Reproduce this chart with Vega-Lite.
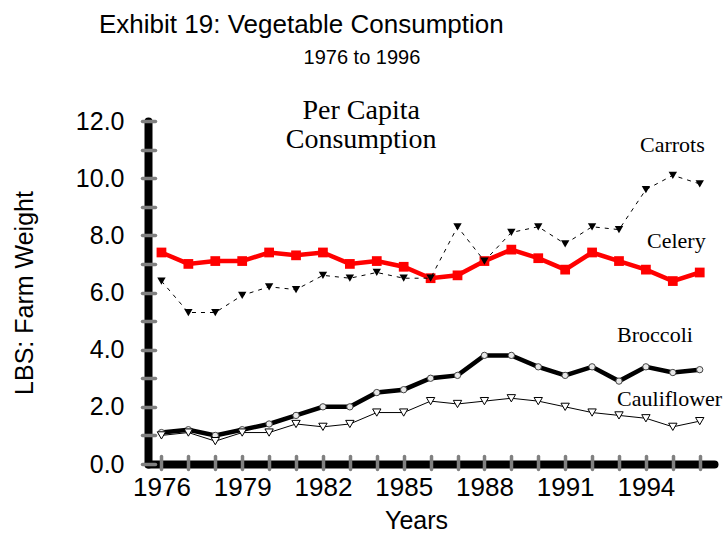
{
  "$schema": "https://vega.github.io/schema/vega-lite/v6.json",
  "width": 566,
  "height": 343,
  "autosize": {"type": "none"},
  "padding": {"left": 148, "top": 121, "right": 11, "bottom": 69},
  "background": "white",
  "config": {
    "view": {"stroke": null},
    "font": "Liberation Sans"
  },
  "title": {
    "text": "Exhibit 19: Vegetable Consumption",
    "anchor": "start",
    "frame": "group",
    "dx": -49,
    "offset": 10,
    "font": "Liberation Sans",
    "fontSize": 26,
    "fontWeight": "normal",
    "color": "black"
  },
  "datasets": {
    "consumption": [
      {"year": 1976, "series": "Celery", "value": 7.4},
      {"year": 1977, "series": "Celery", "value": 7.0},
      {"year": 1978, "series": "Celery", "value": 7.1},
      {"year": 1979, "series": "Celery", "value": 7.1},
      {"year": 1980, "series": "Celery", "value": 7.4},
      {"year": 1981, "series": "Celery", "value": 7.3},
      {"year": 1982, "series": "Celery", "value": 7.4},
      {"year": 1983, "series": "Celery", "value": 7.0},
      {"year": 1984, "series": "Celery", "value": 7.1},
      {"year": 1985, "series": "Celery", "value": 6.9},
      {"year": 1986, "series": "Celery", "value": 6.5},
      {"year": 1987, "series": "Celery", "value": 6.6},
      {"year": 1988, "series": "Celery", "value": 7.1},
      {"year": 1989, "series": "Celery", "value": 7.5},
      {"year": 1990, "series": "Celery", "value": 7.2},
      {"year": 1991, "series": "Celery", "value": 6.8},
      {"year": 1992, "series": "Celery", "value": 7.4},
      {"year": 1993, "series": "Celery", "value": 7.1},
      {"year": 1994, "series": "Celery", "value": 6.8},
      {"year": 1995, "series": "Celery", "value": 6.4},
      {"year": 1996, "series": "Celery", "value": 6.7},
      {"year": 1976, "series": "Carrots", "value": 6.4},
      {"year": 1977, "series": "Carrots", "value": 5.3},
      {"year": 1978, "series": "Carrots", "value": 5.3},
      {"year": 1979, "series": "Carrots", "value": 5.9},
      {"year": 1980, "series": "Carrots", "value": 6.2},
      {"year": 1981, "series": "Carrots", "value": 6.1},
      {"year": 1982, "series": "Carrots", "value": 6.6},
      {"year": 1983, "series": "Carrots", "value": 6.5},
      {"year": 1984, "series": "Carrots", "value": 6.7},
      {"year": 1985, "series": "Carrots", "value": 6.5},
      {"year": 1986, "series": "Carrots", "value": 6.5},
      {"year": 1987, "series": "Carrots", "value": 8.3},
      {"year": 1988, "series": "Carrots", "value": 7.1},
      {"year": 1989, "series": "Carrots", "value": 8.1},
      {"year": 1990, "series": "Carrots", "value": 8.3},
      {"year": 1991, "series": "Carrots", "value": 7.7},
      {"year": 1992, "series": "Carrots", "value": 8.3},
      {"year": 1993, "series": "Carrots", "value": 8.2},
      {"year": 1994, "series": "Carrots", "value": 9.6},
      {"year": 1995, "series": "Carrots", "value": 10.1},
      {"year": 1996, "series": "Carrots", "value": 9.8},
      {"year": 1976, "series": "Broccoli", "value": 1.1},
      {"year": 1977, "series": "Broccoli", "value": 1.2},
      {"year": 1978, "series": "Broccoli", "value": 1.0},
      {"year": 1979, "series": "Broccoli", "value": 1.2},
      {"year": 1980, "series": "Broccoli", "value": 1.4},
      {"year": 1981, "series": "Broccoli", "value": 1.7},
      {"year": 1982, "series": "Broccoli", "value": 2.0},
      {"year": 1983, "series": "Broccoli", "value": 2.0},
      {"year": 1984, "series": "Broccoli", "value": 2.5},
      {"year": 1985, "series": "Broccoli", "value": 2.6},
      {"year": 1986, "series": "Broccoli", "value": 3.0},
      {"year": 1987, "series": "Broccoli", "value": 3.1},
      {"year": 1988, "series": "Broccoli", "value": 3.8},
      {"year": 1989, "series": "Broccoli", "value": 3.8},
      {"year": 1990, "series": "Broccoli", "value": 3.4},
      {"year": 1991, "series": "Broccoli", "value": 3.1},
      {"year": 1992, "series": "Broccoli", "value": 3.4},
      {"year": 1993, "series": "Broccoli", "value": 2.9},
      {"year": 1994, "series": "Broccoli", "value": 3.4},
      {"year": 1995, "series": "Broccoli", "value": 3.2},
      {"year": 1996, "series": "Broccoli", "value": 3.3},
      {"year": 1976, "series": "Cauliflower", "value": 1.0},
      {"year": 1977, "series": "Cauliflower", "value": 1.1},
      {"year": 1978, "series": "Cauliflower", "value": 0.8},
      {"year": 1979, "series": "Cauliflower", "value": 1.1},
      {"year": 1980, "series": "Cauliflower", "value": 1.1},
      {"year": 1981, "series": "Cauliflower", "value": 1.4},
      {"year": 1982, "series": "Cauliflower", "value": 1.3},
      {"year": 1983, "series": "Cauliflower", "value": 1.4},
      {"year": 1984, "series": "Cauliflower", "value": 1.8},
      {"year": 1985, "series": "Cauliflower", "value": 1.8},
      {"year": 1986, "series": "Cauliflower", "value": 2.2},
      {"year": 1987, "series": "Cauliflower", "value": 2.1},
      {"year": 1988, "series": "Cauliflower", "value": 2.2},
      {"year": 1989, "series": "Cauliflower", "value": 2.3},
      {"year": 1990, "series": "Cauliflower", "value": 2.2},
      {"year": 1991, "series": "Cauliflower", "value": 2.0},
      {"year": 1992, "series": "Cauliflower", "value": 1.8},
      {"year": 1993, "series": "Cauliflower", "value": 1.7},
      {"year": 1994, "series": "Cauliflower", "value": 1.6},
      {"year": 1995, "series": "Cauliflower", "value": 1.3},
      {"year": 1996, "series": "Cauliflower", "value": 1.5}
    ],
    "single": [{"note": "annotation"}]
  },
  "resolve": {"axis": {"x": "independent", "y": "independent"}},
  "layer": [
    {
      "data": {"name": "consumption"},
      "encoding": {
        "x": {
          "field": "year", "type": "quantitative",
          "scale": {"domain": [1975.5, 1996.53], "nice": false, "zero": false},
          "axis": {
            "orient": "bottom",
            "values": [1976,1977,1978,1979,1980,1981,1982,1983,1984,1985,1986,1987,1988,1989,1990,1991,1992,1993,1994,1995,1996],
            "format": "d",
            "labelExpr": "(datum.value - 1976) % 3 === 0 ? datum.label : ''",
            "title": "Years",
            "titleFont": "Liberation Sans", "titleFontSize": 25, "titleFontWeight": "normal", "titleColor": "black",
            "titlePadding": 8, "titleX": 268,
            "labelFont": "Liberation Sans", "labelFontSize": 26, "labelColor": "black", "labelPadding": 4,
            "labelOverlap": false, "labelFlush": false,
            "domainColor": "black", "domainWidth": 8, "domainCap": "round",
            "tickColor": "#808080", "tickOpacity": 0, "tickWidth": 3.5, "tickSize": 6,
            "grid": false, "zindex": 1
          }
        },
        "y": {
          "field": "value", "type": "quantitative",
          "scale": {"domain": [0, 12], "nice": false},
          "axis": {
            "orient": "left",
            "values": [0,1,2,3,4,5,6,7,8,9,10,11,12],
            "format": ".1f",
            "labelExpr": "datum.value % 2 === 0 ? datum.label : ''",
            "title": "LBS: Farm Weight",
            "titleFont": "Liberation Sans", "titleFontSize": 25, "titleFontWeight": "normal", "titleColor": "black",
            "titlePadding": 38,
            "labelFont": "Liberation Sans", "labelFontSize": 25, "labelColor": "black", "labelPadding": 18,
            "labelOverlap": false, "labelFlush": false,
            "domainColor": "black", "domainWidth": 8, "domainCap": "round",
            "tickColor": "#808080", "tickOpacity": 0, "tickWidth": 3.5, "tickSize": 6,
            "grid": false, "zindex": 1
          }
        }
      },
      "layer": [
        {
          "transform": [{"filter": "datum.series === 'Celery'"}],
          "mark": {"type": "line", "color": "#ff0000", "strokeWidth": 4.5}
        },
        {
          "transform": [{"filter": "datum.series === 'Celery'"}],
          "mark": {"type": "point", "shape": "square", "filled": true, "color": "#ff0000", "size": 95, "opacity": 1}
        },
        {
          "transform": [{"filter": "datum.series === 'Carrots'"}],
          "mark": {"type": "line", "color": "black", "strokeWidth": 1, "strokeDash": [4, 5]}
        },
        {
          "transform": [{"filter": "datum.series === 'Carrots'"}],
          "mark": {"type": "point", "shape": "triangle-down", "filled": true, "color": "black", "size": 70, "opacity": 1}
        },
        {
          "transform": [{"filter": "datum.series === 'Broccoli'"}],
          "mark": {"type": "line", "color": "black", "strokeWidth": 4.5}
        },
        {
          "transform": [{"filter": "datum.series === 'Broccoli'"}],
          "mark": {"type": "point", "shape": "circle", "filled": true, "fill": "#e8e8e8", "stroke": "#444444", "strokeWidth": 1, "size": 40, "opacity": 1}
        },
        {
          "transform": [{"filter": "datum.series === 'Cauliflower'"}],
          "mark": {"type": "line", "color": "black", "strokeWidth": 1}
        },
        {
          "transform": [{"filter": "datum.series === 'Cauliflower'"}],
          "mark": {"type": "point", "shape": "triangle-down", "filled": true, "fill": "white", "stroke": "black", "strokeWidth": 1, "size": 70, "opacity": 1}
        }
      ]
    },
    {
      "data": {"name": "single"},
      "mark": {"type": "text", "text": "Carrots", "font": "Liberation Serif", "fontSize": 22, "align": "left", "baseline": "alphabetic", "color": "black"},
      "encoding": {
        "x": {"datum": 1993.78, "type": "quantitative", "axis": {
          "orient": "bottom",
          "values": [1976,1977,1978,1979,1980,1981,1982,1983,1984,1985,1986,1987,1988,1989,1990,1991,1992,1993,1994,1995,1996],
          "domain": false, "labels": false, "title": null, "grid": false,
          "ticks": true, "offset": -8, "tickSize": 13,
          "tickColor": "#808080", "tickWidth": 3.5, "tickCap": "round", "zindex": 2
        }},
        "y": {"datum": 10.93, "type": "quantitative", "axis": {
          "orient": "left",
          "values": [0,1,2,3,4,5,6,7,8,9,10,11,12],
          "domain": false, "labels": false, "title": null, "grid": false,
          "ticks": true, "offset": -7, "tickSize": 13,
          "tickColor": "#808080", "tickWidth": 3.5, "tickCap": "round", "zindex": 2
        }}
      }
    },
    {
      "data": {"name": "single"},
      "mark": {"type": "text", "text": "1976 to 1996", "font": "Liberation Sans", "fontSize": 20, "align": "center", "baseline": "alphabetic", "color": "black", "clip": false},
      "encoding": {"x": {"datum": 1983.45, "axis": null}, "y": {"datum": 14.0, "axis": null}}
    },
    {
      "data": {"name": "single"},
      "mark": {"type": "text", "text": ["Per Capita", "Consumption"], "font": "Liberation Serif", "fontSize": 28, "lineHeight": 29, "align": "center", "baseline": "alphabetic", "color": "black"},
      "encoding": {"x": {"datum": 1983.42, "axis": null}, "y": {"datum": 12.06, "axis": null}}
    },
    {
      "data": {"name": "single"},
      "mark": {"type": "text", "text": "Celery", "font": "Liberation Serif", "fontSize": 22, "align": "left", "baseline": "alphabetic", "color": "black"},
      "encoding": {"x": {"datum": 1994.04, "axis": null}, "y": {"datum": 7.55, "axis": null}}
    },
    {
      "data": {"name": "single"},
      "mark": {"type": "text", "text": "Broccoli", "font": "Liberation Serif", "fontSize": 22, "align": "left", "baseline": "alphabetic", "color": "black"},
      "encoding": {"x": {"datum": 1992.93, "axis": null}, "y": {"datum": 4.27, "axis": null}}
    },
    {
      "data": {"name": "single"},
      "mark": {"type": "text", "text": "Cauliflower", "font": "Liberation Serif", "fontSize": 22, "align": "left", "baseline": "alphabetic", "color": "black"},
      "encoding": {"x": {"datum": 1992.93, "axis": null}, "y": {"datum": 2.03, "axis": null}}
    }
  ]
}
